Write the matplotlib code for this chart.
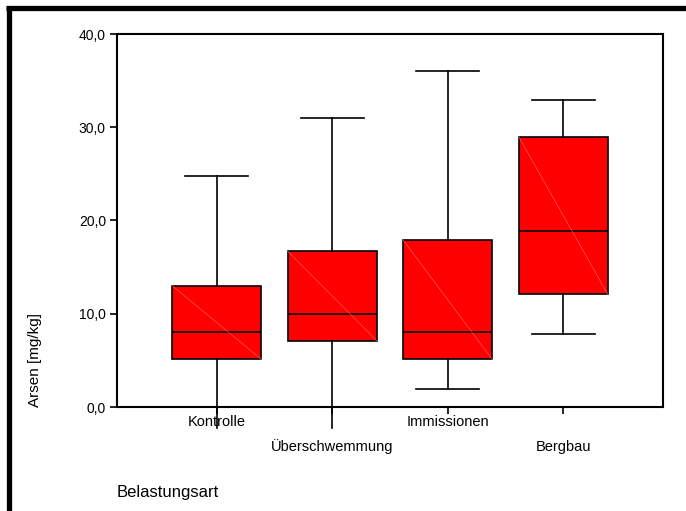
import matplotlib
matplotlib.use("Agg")
import matplotlib.pyplot as plt
from matplotlib.lines import Line2D

plt.rcParams['font.family'] = ['Liberation Sans', 'DejaVu Sans']

# Arsen je Belastungsart (Boxplot-Kennwerte)
kategorien = ['Kontrolle', 'Überschwemmung', 'Immissionen', 'Bergbau']
minimum = [-2.3, -2.3, 1.9, 7.8]
q1 = [5.1, 7.1, 5.1, 12.1]
median = [8.0, 10.0, 8.0, 18.9]
q3 = [13.0, 16.7, 17.9, 29.0]
maximum = [24.8, 31.0, 36.0, 32.9]
yticks = [0, 10, 20, 30, 40]

W, H = 686, 511
fig = plt.figure(figsize=(W / 100, H / 100), dpi=100)
ax = fig.add_axes([117 / W, 1 - 407 / H, (663 - 117) / W, (407 - 34) / H])

stats = []
for i in range(len(kategorien)):
    stats.append({'med': median[i], 'q1': q1[i], 'q3': q3[i],
                  'whislo': minimum[i], 'whishi': maximum[i], 'fliers': []})

pos = list(range(1, len(kategorien) + 1))
bp = ax.bxp(stats, positions=pos, widths=0.772, patch_artist=True,
            showfliers=False,
            boxprops=dict(facecolor='#ff0000', edgecolor='black', linewidth=1.2),
            medianprops=dict(color='black', linewidth=1.2),
            whiskerprops=dict(color='black', linewidth=1.2),
            capprops=dict(color='black', linewidth=1.2),
            capwidths=0.546)

for w in bp['whiskers']:
    w.set_clip_on(False)
# untere Whisker der ersten beiden Gruppen ohne Querstrich
for i in range(len(kategorien)):
    if minimum[i] < 0:
        bp['caps'][2 * i].set_visible(False)

# feine Diagonale in den Boxen
for i, p in enumerate(pos):
    ax.plot([p - 0.386, p + 0.386], [q3[i], q1[i]], color='#ff5a5a',
            linewidth=0.5, zorder=3)

ax.set_xlim(1 - 0.865, 4 + 0.865)
ax.set_ylim(0, 40)
ax.set_yticks(yticks)
ax.set_yticklabels([f'{v:.1f}'.replace('.', ',') for v in yticks], fontsize=10)
ax.set_xticks(pos)
ax.set_xticklabels([])
ax.tick_params(axis='y', length=5, width=1.2, pad=3)
ax.tick_params(axis='x', length=5, width=1.2)
for s in ax.spines.values():
    s.set_linewidth(1.5)

# Kategorienbeschriftung in zwei Reihen
for i, name in enumerate(kategorien):
    yoff = -0.04 if i % 2 == 0 else -0.107
    ax.text(pos[i], yoff, name, transform=ax.get_xaxis_transform(),
            ha='center', va='center', fontsize=10.5)

fig.text(117 / W, 1 - 492 / H, 'Belastungsart', ha='left', va='center', fontsize=12)
fig.text(35 / W, 1 - 407 / H, 'Arsen [mg/kg]', rotation=90, ha='center',
         va='bottom', fontsize=11)

# schwarzer Rahmen links und oben
fig.add_artist(Line2D([8.5 / W, 8.5 / W], [0, 1 - 6 / H], color='black',
                      linewidth=3.8, solid_capstyle='butt'))
fig.add_artist(Line2D([6 / W, 1], [1 - 8 / H, 1 - 8 / H], color='black',
                      linewidth=3.8, solid_capstyle='butt'))

fig.savefig('out.png', dpi=100)
